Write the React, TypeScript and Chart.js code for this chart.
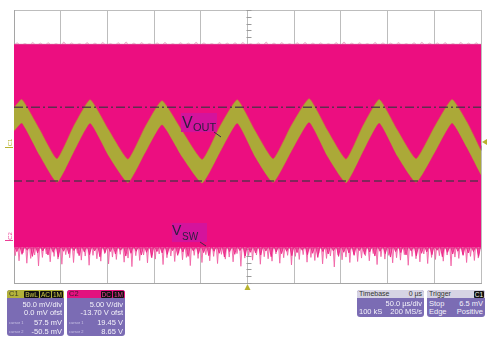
import React, { useEffect, useRef } from "react";
import { Chart, registerables } from "chart.js";

Chart.register(...registerables);

// ---- horizontal: 50 µs/div, 10 divisions, trigger at centre ----
const TIME_MIN_US = -250;
const TIME_MAX_US = 250;
const TIME_STEP_US = 50;

// ---- C1 (VOUT): 50 mV/div, 0 mV offset, 8 divisions ----
const C1_MIN_MV = -200;
const C1_MAX_MV = 200;
const C1_STEP_MV = 50;
// ---- C2 (VSW): 5 V/div, -13.70 V offset ----
const C2_MIN_V = -6.3;
const C2_MAX_V = 33.7;

// VOUT ripple band (upper / lower envelope)
const VOUT_TIME_US = [
  -250, -241.5, -222.5, -204, -186.5, -168.5, -148.5, -128, -110, -91.5, -70, -48.5, -30, -11,
  8, 27.5, 46.5, 66, 85.5, 105.5, 123, 141, 160.5, 180.5, 200, 219, 235, 250,
];
const VOUT_UPPER_MV = [
  57, 69, 25, -18, 29, 68.5, 24, -18.5, 28, 67, 23, -19, 28.5, 68.5,
  23.5, -18, 30, 70, 24, -18.5, 29, 69, 24, -18, 28.5, 69, 36, -5.5,
];
const VOUT_LOWER_MV = [
  23, 34.5, -13, -52.5, -9, 34, -14, -53, -10, 32, -15, -53.5, -9.5, 34,
  -14.5, -52.5, -8, 35.5, -14, -53, -9, 34.5, -14, -52.5, -9.5, 34.5, -1.5, -41.5,
];

// C1 cursors
const CURSOR_MV = [57.5, -50.5];

// VSW envelope
const VSW_HIGH_V = 28.7;
const VSW_LOW_V = -1.05;
const VSW_TOP_NOISE_V = [
  28.9, 28.8, 28.95, 28.85, 28.9, 28.78, 29.0, 28.88, 28.8, 28.92, 28.85, 28.95, 28.8, 28.9, 29.02,
  28.85, 28.92, 28.8, 28.88, 28.95, 28.78, 28.9, 28.85, 28.98, 28.88, 28.8, 28.92, 28.85, 28.9, 28.95,
  28.8, 28.88, 29.0, 28.85, 28.92, 28.78, 28.9, 28.95, 28.85, 28.88, 28.8, 28.92, 29.02, 28.85, 28.9,
  28.8, 28.95, 28.88, 28.85, 28.92, 28.78, 28.9, 28.98, 28.85, 28.88, 28.92, 28.8, 28.95, 28.85, 28.9,
];
const VSW_BOTTOM_SPIKES_V = [
  -2.3, -3.05, -1.9, -3.4, -2.7, -2.2, -3.8, -2.55, -2.05, -3.2,
  -2.4, -2.8, -3.55, -2.15, -2.6, -3.3, -1.95, -2.95, -2.35, -3.7,
  -2.25, -2.75, -3.1, -2.0, -3.5, -2.5, -2.85, -2.1, -3.25, -2.65,
  -3.9, -2.3, -3.0, -2.2, -3.35, -2.45, -2.8, -2.05, -3.6, -2.6,
  -2.35, -3.15, -1.95, -2.9, -2.55, -3.75, -2.25, -2.7, -3.3, -2.15,
  -3.05, -2.4, -3.45, -2.1, -2.8, -2.5, -3.2, -2.0, -3.85, -2.65,
  -2.3, -2.95, -2.2, -3.55, -2.45, -2.75, -3.1, -2.05, -3.4, -2.6,
  -2.25, -3.65, -2.4, -2.85, -2.15, -3.25, -2.55, -3.0, -1.95, -3.5,
  -2.7, -2.35, -3.95, -2.2, -2.9, -2.5, -3.3, -2.1, -3.15, -2.65,
  -2.3, -3.05, -2.0, -3.6, -2.45, -2.8, -2.25, -3.35, -2.6, -2.95,
  -2.15, -3.7, -2.4, -2.75, -3.2, -2.05, -3.45, -2.55, -2.85, -2.3,
  -3.1, -2.2, -3.8, -2.5, -2.7, -2.1, -3.3, -2.4, -3.0, -2.65,
];
const VSW_SHORT_SPIKES_V = [
  -1.7, -2.1, -1.5, -2.4, -1.9, -1.6, -2.2, -1.8, -2.5, -1.65,
  -2.0, -1.55, -2.3, -1.75, -2.15, -1.6, -2.45, -1.85, -1.7, -2.05,
  -1.5, -2.35, -1.95, -1.65, -2.2, -1.8, -2.6, -1.7, -1.9, -2.1,
  -1.55, -2.25, -1.75, -2.4, -1.6, -2.0, -1.85, -2.3, -1.65, -1.95,
  -2.5, -1.7, -2.1, -1.55, -2.35, -1.8, -1.9, -2.2, -1.6, -2.45,
  -1.75, -2.0, -1.65, -2.3, -1.85, -1.5, -2.15, -1.95, -2.55, -1.7,
  -2.05, -1.6, -2.4, -1.8, -1.9, -2.25, -1.55, -2.1, -1.75, -2.35,
  -1.65, -2.0, -2.5, -1.7, -1.85, -2.2, -1.6, -2.3, -1.95, -1.75,
  -2.15, -1.5, -2.45, -1.8, -2.05, -1.65, -2.25, -1.9, -1.7, -2.4,
];

const TRIGGER_LEVEL_MV = 6.5;
const TRIGGER_TIME_US = 0;
const C1_GROUND_MV = 0;
const C2_GROUND_V = 0;

const PINK = "rgb(236, 14, 128)";
const OLIVE = "rgb(171, 169, 56)";
const FONT = '"Liberation Sans", Arial, sans-serif';

function zigzag(values: number[], base: number, tipFrac: number, shift: number) {
  const out: { x: number; y: number }[] = [];
  const step = (TIME_MAX_US - TIME_MIN_US) / values.length;
  values.forEach((v, i) => {
    out.push({ x: TIME_MIN_US + (i + shift) * step, y: base });
    out.push({ x: TIME_MIN_US + (i + shift + tipFrac) * step, y: v });
    out.push({ x: TIME_MIN_US + (i + shift + 2 * tipFrac) * step, y: base });
  });
  out.push({ x: TIME_MAX_US, y: base });
  return out;
}

const scopePlugin = {
  id: "scopeMarks",
  beforeDatasetsDraw(chart: any) {
    const { ctx, scales } = chart;
    const x = scales.x;
    const y = scales.y;
    const cx = Math.round(x.getPixelForValue(TRIGGER_TIME_US)) + 0.5;
    const cy = Math.round(y.getPixelForValue(0)) + 0.5;
    ctx.save();
    ctx.strokeStyle = "#9a9a9a";
    ctx.lineWidth = 1;
    ctx.beginPath();
    for (let v = C1_MIN_MV; v <= C1_MAX_MV; v += C1_STEP_MV / 5) {
      const py = Math.round(y.getPixelForValue(v)) + 0.5;
      ctx.moveTo(cx - 2, py);
      ctx.lineTo(cx + 3, py);
    }
    for (let t = TIME_MIN_US; t <= TIME_MAX_US; t += TIME_STEP_US / 5) {
      const px = Math.round(x.getPixelForValue(t)) + 0.5;
      ctx.moveTo(px, cy - 2);
      ctx.lineTo(px, cy + 3);
    }
    ctx.stroke();
    ctx.restore();
  },
  afterDraw(chart: any) {
    const { ctx, scales, chartArea } = chart;
    const y1 = scales.y;
    const y2 = scales.y2;
    const x = scales.x;
    ctx.save();
    const ty = y1.getPixelForValue(TRIGGER_LEVEL_MV);
    ctx.fillStyle = "#b8b22e";
    ctx.beginPath();
    ctx.moveTo(chartArea.right + 1, ty);
    ctx.lineTo(chartArea.right + 6, ty - 3);
    ctx.lineTo(chartArea.right + 6, ty + 3);
    ctx.closePath();
    ctx.fill();
    const tx = x.getPixelForValue(TRIGGER_TIME_US);
    ctx.beginPath();
    ctx.moveTo(tx, chartArea.bottom + 1);
    ctx.lineTo(tx - 3, chartArea.bottom + 7);
    ctx.lineTo(tx + 3, chartArea.bottom + 7);
    ctx.closePath();
    ctx.fill();
    const marks = [
      { label: "C1", yPix: y1.getPixelForValue(C1_GROUND_MV), color: "#b8b22e" },
      { label: "C2", yPix: y2.getPixelForValue(C2_GROUND_V), color: "#ec3f96" },
    ];
    marks.forEach((m) => {
      ctx.strokeStyle = m.color;
      ctx.fillStyle = m.color;
      ctx.lineWidth = 1;
      ctx.beginPath();
      ctx.moveTo(5, Math.round(m.yPix) + 0.5);
      ctx.lineTo(13, Math.round(m.yPix) + 0.5);
      ctx.stroke();
      ctx.save();
      ctx.translate(10, m.yPix - 4);
      ctx.rotate(-Math.PI / 2);
      ctx.font = `6px ${FONT}`;
      ctx.textAlign = "center";
      ctx.textBaseline = "middle";
      ctx.fillText(m.label, 0, 0);
      ctx.restore();
    });
    ctx.restore();
  },
};

function lineOf(vals: number[]) {
  return VOUT_TIME_US.map((t, i) => ({ x: t, y: vals[i] }));
}

const boxBase: React.CSSProperties = {
  position: "absolute",
  background: "#7b6cb4",
  borderRadius: 3,
  color: "#f4f3fa",
  fontFamily: FONT,
  fontSize: 7.5,
  lineHeight: "8px",
  overflow: "hidden",
};

function Row(props: { top: number; left?: string; right: string; small?: boolean }) {
  return (
    <div
      style={{
        position: "absolute",
        top: props.top,
        left: 2,
        right: 2,
        display: "flex",
        justifyContent: "space-between",
        whiteSpace: "nowrap",
      }}
    >
      <span style={props.small ? { fontSize: 4, color: "#c9c3e6" } : {}}>{props.left || ""}</span>
      <span>{props.right}</span>
    </div>
  );
}

function Chip(props: { text: string; color: string }) {
  return (
    <span
      style={{
        background: "#111",
        color: props.color,
        fontSize: 6.5,
        lineHeight: "7px",
        padding: "0 1px",
        marginLeft: 1,
        borderRadius: 1,
      }}
    >
      {props.text}
    </span>
  );
}

export default function App() {
  const canvasRef = useRef<HTMLCanvasElement | null>(null);

  useEffect(() => {
    if (!canvasRef.current) return;
    const chart = new Chart(canvasRef.current, {
      type: "line",
      data: {
        datasets: [
          {
            label: "Cursor 1",
            data: [
              { x: TIME_MIN_US, y: CURSOR_MV[0] },
              { x: TIME_MAX_US, y: CURSOR_MV[0] },
            ],
            borderColor: "rgba(70, 50, 70, 0.85)",
            borderWidth: 1.5,
            borderDash: [9, 3, 2, 3],
            pointRadius: 0,
            fill: false,
            yAxisID: "y",
            order: 0,
          },
          {
            label: "Cursor 2",
            data: [
              { x: TIME_MIN_US, y: CURSOR_MV[1] },
              { x: TIME_MAX_US, y: CURSOR_MV[1] },
            ],
            borderColor: "rgba(70, 50, 70, 0.85)",
            borderWidth: 1.5,
            borderDash: [8, 4],
            pointRadius: 0,
            fill: false,
            yAxisID: "y",
            order: 0,
          },
          {
            label: "VOUT upper",
            data: lineOf(VOUT_UPPER_MV),
            borderColor: "rgba(205, 110, 60, 0.6)",
            borderWidth: 1,
            backgroundColor: OLIVE,
            pointRadius: 0,
            fill: "+1",
            tension: 0.15,
            yAxisID: "y",
            order: 1,
          },
          {
            label: "VOUT lower",
            data: lineOf(VOUT_LOWER_MV),
            borderColor: "rgba(205, 110, 60, 0.6)",
            borderWidth: 1,
            pointRadius: 0,
            fill: false,
            tension: 0.15,
            yAxisID: "y",
            order: 1,
          },
          {
            label: "VSW band",
            data: [
              { x: TIME_MIN_US, y: VSW_HIGH_V },
              { x: TIME_MAX_US, y: VSW_HIGH_V },
            ],
            borderWidth: 0,
            borderColor: PINK,
            backgroundColor: PINK,
            pointRadius: 0,
            fill: { value: VSW_LOW_V },
            yAxisID: "y2",
            order: 3,
          },
          {
            label: "VSW top noise",
            data: zigzag(VSW_TOP_NOISE_V, VSW_HIGH_V, 0.3, 0.1),
            borderColor: "rgba(215, 150, 180, 0.75)",
            borderWidth: 0.8,
            backgroundColor: "rgba(236, 80, 155, 0.35)",
            pointRadius: 0,
            fill: { value: VSW_HIGH_V },
            yAxisID: "y2",
            order: 3,
          },
          {
            label: "VSW short spikes",
            data: zigzag(VSW_SHORT_SPIKES_V, VSW_LOW_V, 0.35, 0.2),
            borderColor: "rgba(236, 30, 132, 0.85)",
            borderWidth: 1,
            backgroundColor: "rgba(236, 40, 140, 0.7)",
            pointRadius: 0,
            fill: { value: VSW_LOW_V },
            yAxisID: "y2",
            order: 3,
          },
          {
            label: "VSW spikes",
            data: zigzag(VSW_BOTTOM_SPIKES_V, VSW_LOW_V, 0.3, 0),
            borderColor: "rgba(240, 90, 160, 0.8)",
            borderWidth: 1,
            backgroundColor: "rgba(244, 120, 175, 0.5)",
            pointRadius: 0,
            fill: { value: VSW_LOW_V },
            yAxisID: "y2",
            order: 3,
          },
        ],
      },
      options: {
        animation: false,
        responsive: false,
        maintainAspectRatio: false,
        devicePixelRatio: 1,
        layout: { padding: { left: 14, right: 13, top: 10, bottom: 60 } },
        plugins: {
          legend: { display: false },
          tooltip: { enabled: false },
        },
        scales: {
          x: {
            type: "linear",
            min: TIME_MIN_US,
            max: TIME_MAX_US,
            ticks: { display: false, stepSize: TIME_STEP_US },
            grid: { color: "#bdbdbd", drawTicks: false, lineWidth: 1 },
            border: { display: true, color: "#a5a5a5", width: 1 },
          },
          y: {
            type: "linear",
            position: "left",
            min: C1_MIN_MV,
            max: C1_MAX_MV,
            ticks: { display: false, stepSize: C1_STEP_MV },
            grid: { color: "#bdbdbd", drawTicks: false, lineWidth: 1 },
            border: { display: true, color: "#a5a5a5", width: 1 },
          },
          y2: {
            type: "linear",
            display: false,
            min: C2_MIN_V,
            max: C2_MAX_V,
          },
        },
      },
      plugins: [scopePlugin],
    });
    return () => chart.destroy();
  }, []);

  return (
    <div
      style={{
        position: "absolute",
        left: 0,
        top: 0,
        width: 494,
        height: 343,
        background: "#fff",
        overflow: "hidden",
        fontFamily: FONT,
      }}
    >
      <canvas
        ref={canvasRef}
        width={494}
        height={343}
        style={{ position: "absolute", left: 0, top: 0, width: 494, height: 343 }}
      />
      {/* trace labels */}
      <div style={{ position: "absolute", left: 181, top: 113, width: 36, height: 19, background: "#d4139c" }} />
      <div style={{ position: "absolute", left: 182, top: 114.5, fontSize: 16, lineHeight: "16px", color: "#2a1f3f" }}>V</div>
      <div style={{ position: "absolute", left: 193, top: 121.5, fontSize: 11, lineHeight: "11px", color: "#2a1f3f" }}>OUT</div>
      <div style={{ position: "absolute", left: 172, top: 223, width: 35, height: 19, background: "#d4139c" }} />
      <div style={{ position: "absolute", left: 172, top: 223, fontSize: 14, lineHeight: "14px", color: "#2a1f3f" }}>V</div>
      <div style={{ position: "absolute", left: 182, top: 231.5, fontSize: 10, lineHeight: "10px", color: "#2a1f3f" }}>SW</div>
      <svg style={{ position: "absolute", left: 0, top: 0 }} width={494} height={343}>
        <line x1={214} y1={132} x2={221} y2={137} stroke="#3a2a4a" strokeWidth={1} />
        <line x1={200} y1={242} x2={206} y2={246} stroke="#3a2a4a" strokeWidth={1} />
      </svg>

      {/* C1 descriptor */}
      <div style={{ ...boxBase, left: 7, top: 290, width: 57, height: 46 }}>
        <div
          style={{
            position: "absolute",
            left: 0,
            right: 0,
            top: 0,
            height: 8,
            background: "#b3b23a",
            display: "flex",
            alignItems: "center",
            justifyContent: "space-between",
            padding: "0 1px 0 2px",
          }}
        >
          <span style={{ color: "#3b3b22", fontSize: 7.5 }}>C1</span>
          <span style={{ display: "flex" }}>
            <Chip text="BwL" color="#cfcb45" />
            <Chip text="AC" color="#cfcb45" />
            <Chip text="1M" color="#cfcb45" />
          </span>
        </div>
        <Row top={11} right="50.0 mV/div" />
        <Row top={19} right="0.0 mV ofst" />
        <Row top={29} left="cursor 1" small right="57.5 mV" />
        <Row top={38} left="cursor 2" small right="-50.5 mV" />
      </div>

      {/* C2 descriptor */}
      <div style={{ ...boxBase, left: 67, top: 290, width: 58, height: 46 }}>
        <div
          style={{
            position: "absolute",
            left: 0,
            right: 0,
            top: 0,
            height: 8,
            background: "#e2127f",
            display: "flex",
            alignItems: "center",
            justifyContent: "space-between",
            padding: "0 1px 0 2px",
          }}
        >
          <span style={{ color: "#3b1a2c", fontSize: 7.5 }}>C2</span>
          <span style={{ display: "flex" }}>
            <Chip text="DC" color="#ee3f95" />
            <Chip text="1M" color="#ee3f95" />
          </span>
        </div>
        <Row top={11} right="5.00 V/div" />
        <Row top={19} right="-13.70 V ofst" />
        <Row top={29} left="cursor 1" small right="19.45 V" />
        <Row top={38} left="cursor 2" small right="8.65 V" />
      </div>

      {/* Timebase */}
      <div style={{ ...boxBase, left: 357, top: 290, width: 67, height: 27 }}>
        <div
          style={{
            position: "absolute",
            left: 0,
            right: 0,
            top: 0,
            height: 8,
            background: "#d6d3e4",
            color: "#333",
            display: "flex",
            alignItems: "center",
            justifyContent: "space-between",
            padding: "0 2px",
            fontSize: 7,
          }}
        >
          <span>Timebase</span>
          <span>0 µs</span>
        </div>
        <Row top={10} right="50.0 µs/div" />
        <Row top={18} left="100 kS" right="200 MS/s" />
      </div>

      {/* Trigger */}
      <div style={{ ...boxBase, left: 427, top: 290, width: 58, height: 27 }}>
        <div
          style={{
            position: "absolute",
            left: 0,
            right: 0,
            top: 0,
            height: 8,
            background: "#d6d3e4",
            color: "#333",
            display: "flex",
            alignItems: "center",
            justifyContent: "space-between",
            padding: "0 1px 0 2px",
            fontSize: 7,
          }}
        >
          <span>Trigger</span>
          <Chip text="C1" color="#f2f2f2" />
        </div>
        <Row top={10} left="Stop" right="6.5 mV" />
        <Row top={18} left="Edge" right="Positive" />
      </div>
    </div>
  );
}
